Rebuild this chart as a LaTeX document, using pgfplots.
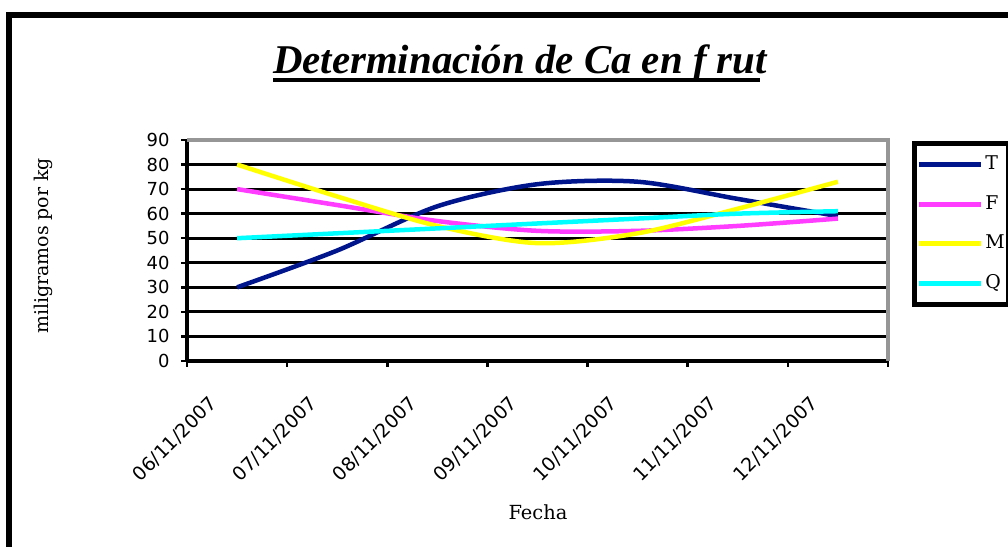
\documentclass[border=0pt]{standalone}
\usepackage{pgfplots}
\pgfplotsset{compat=1.18}
\usepackage{fontspec}
\setmainfont{Liberation Serif}
\newfontfamily\labfont{DejaVu Serif}
\newfontfamily\tickfont{DejaVu Sans}
\definecolor{cT}{RGB}{0,20,140}
\definecolor{cF}{RGB}{255,60,255}
\definecolor{cM}{RGB}{255,255,0}
\definecolor{cQ}{RGB}{0,255,255}
\definecolor{bgray}{RGB}{150,150,150}

\begin{document}
\begin{tikzpicture}[x=1bp,y=1bp]
\useasboundingbox (0,0) rectangle (1008,547);
\clip (0,0) rectangle (1008,547);
\fill[white] (0,0) rectangle (1008,547);
% chart frame
\draw[line width=5.5bp] (9,-20) -- (9,532) -- (1030,532);
% title
\begin{scope}
\clip (0,400) rectangle (773,547);
\node[anchor=base west, inner sep=0, font=\fontsize{41}{45}\selectfont\bfseries\itshape] at (273,473) {Determinación de Ca en f rut};
\end{scope}
\draw[line width=4bp] (273,467) -- (760,467);
% axis labels
\node[rotate=90, font=\labfont\fontsize{19}{21}\selectfont] at (43,301) {miligramos por kg};
\node[anchor=base, font=\labfont\fontsize{19.5}{21}\selectfont] at (538,27) {Fecha};

\begin{axis}[
  at={(187bp,186bp)}, anchor=south west,
  scale only axis, width=701bp, height=221bp,
  xmin=-0.5, xmax=6.5, ymin=0, ymax=90,
  ytick={0,10,...,90},
  xtick={0,...,6},
  xticklabels={06/11/2007,07/11/2007,08/11/2007,09/11/2007,10/11/2007,11/11/2007,12/11/2007},
  minor xtick={-0.5,0.5,...,6.5},
  axis x line*=bottom, axis y line*=left,
  axis line style={line width=3.5bp, black},
  tick align=outside,
  major tick length=6bp, minor tick length=6bp,
  major x tick style={draw=none},
  minor x tick style={line width=2.5bp, black},
  ytick style={line width=2.5bp, black},
  ymajorgrids, grid style={line width=3bp, black},
  /pgf/number format/assume math mode=true,
  yticklabel style={font=\tickfont\fontsize{18}{20}\selectfont, xshift=-8bp},
  xticklabel style={font=\tickfont\fontsize{19}{21}\selectfont, rotate=45, anchor=east, xshift=-37bp, yshift=-7bp},
  legend style={at={(rel axis cs:1.034,0.995)}, anchor=north west, draw=black, line width=5bp,
    inner xsep=2bp, inner ysep=10bp, font=\labfont\fontsize{19}{21}\selectfont, row sep=17.5bp,
    nodes={inner sep=2bp, text height=14bp, text depth=4bp}},
  legend image code/.code={\draw[#1, line width=5bp] (0bp,0bp) -- (62bp,0bp);},
  legend cell align=left,
  after end axis/.code={\draw[bgray, line width=4bp] (rel axis cs:0,1) -- (rel axis cs:1,1) -- (rel axis cs:1,0);},
]
\addplot[cT, line width=4.5bp, smooth] coordinates {(0,30) (1,45) (2,63) (3,72) (4,73) (5,66) (6,59)};
\addlegendentry{T}
\addplot[cF, line width=4.5bp, smooth] coordinates {(0,70) (1,63.5) (2,57) (3,53) (4,53) (5,55) (6,58)};
\addlegendentry{F}
\addplot[cM, line width=4.5bp, smooth] coordinates {(0,80) (1,67) (2,55) (3,48) (4,52) (5,62) (6,73)};
\addlegendentry{M}
\addplot[cQ, line width=4.5bp, smooth] coordinates {(0,50) (1,52) (2,54) (3,56) (4,58) (5,60) (6,61)};
\addlegendentry{Q}
\end{axis}
\end{tikzpicture}
\end{document}
